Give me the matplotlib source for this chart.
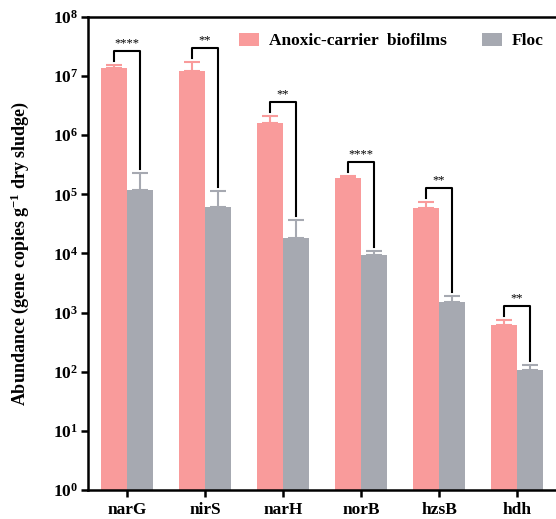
import numpy as np
import matplotlib
matplotlib.use("Agg")
import matplotlib.pyplot as plt

plt.rcParams['font.family'] = ['Liberation Serif', 'DejaVu Serif']
plt.rcParams['font.weight'] = 'bold'
plt.rcParams['mathtext.fontset'] = 'custom'
plt.rcParams['mathtext.rm'] = 'Liberation Serif:bold'
plt.rcParams['mathtext.bf'] = 'Liberation Serif:bold'
plt.rcParams['mathtext.it'] = 'Liberation Serif:bold:italic'

genes = ['narG', 'nirS', 'narH', 'norB', 'hzsB', 'hdh']
biofilm = [1.37e7, 1.24e7, 1.64e6, 1.88e5, 5.84e4, 620]
biofilm_err = [0.18e7, 0.49e7, 0.5e6, 0.2e5, 1.6e4, 130]
floc = [1.19e5, 6.1e4, 1.82e4, 9.5e3, 1.53e3, 105]
floc_err = [1.14e5, 5.5e4, 1.8e4, 1.7e3, 0.39e3, 26]
signif = ['****', '**', '**', '****', '**', '**']

pink = '#F99B9B'
gray = '#A6A9B1'

fig = plt.figure(figsize=(5.56, 5.19), dpi=100)
ax = fig.add_axes([0.1583, 0.0559, 0.8417, 0.9114])

x = np.arange(len(genes))
w = 0.333
ax.bar(x - w / 2, biofilm, width=w, color=pink, label='Anoxic-carrier  biofilms', zorder=2)
ax.bar(x + w / 2, floc, width=w, color=gray, label='Floc', zorder=2)
ax.errorbar(x - w / 2, biofilm, yerr=[np.zeros(len(genes)), biofilm_err], fmt='none',
            ecolor=pink, elinewidth=1.5, capsize=6, capthick=1.5, zorder=3)
ax.errorbar(x + w / 2, floc, yerr=[np.zeros(len(genes)), floc_err], fmt='none',
            ecolor=gray, elinewidth=1.5, capsize=6, capthick=1.5, zorder=3)

for i in range(len(genes)):
    pc = biofilm[i] + biofilm_err[i]
    gc = floc[i] + floc_err[i]
    top = pc * 10 ** 0.237
    lb = pc * 10 ** 0.068
    rb = gc * 10 ** 0.068
    ax.plot([x[i] - w / 2, x[i] - w / 2, x[i] + w / 2, x[i] + w / 2], [lb, top, top, rb],
            color='black', lw=1.5, zorder=4)
    ax.annotate(signif[i], xy=(x[i], top), xytext=(0, 1), textcoords='offset points',
                ha='center', va='bottom', fontsize=9, fontweight='normal')

ax.set_yscale('log')
ax.set_ylim(1, 1e8)
ax.set_xlim(-0.5, 5.5)
ax.set_yticks([10 ** k for k in range(9)])
ax.yaxis.set_minor_locator(matplotlib.ticker.NullLocator())
ax.set_xticks(x)
ax.set_xticklabels(genes)
ax.tick_params(axis='both', labelsize=12.5, width=1.8, length=5)
ax.tick_params(axis='x', pad=4)
ax.tick_params(axis='y', pad=2)
ax.set_ylabel('Abundance (gene copies g$^{-1}$ dry sludge)', fontsize=13, fontweight='bold', labelpad=16)

for s in ['left', 'bottom', 'top']:
    ax.spines[s].set_linewidth(1.8)
ax.spines['right'].set_visible(False)

leg = ax.legend(loc='upper right', bbox_to_anchor=(1.0, 0.992), ncol=2, frameon=False,
                fontsize=12.5, handlelength=1.15, handleheight=0.75, columnspacing=2.0,
                handletextpad=0.6, borderaxespad=0.3)

fig.savefig('out.png', dpi=100)
